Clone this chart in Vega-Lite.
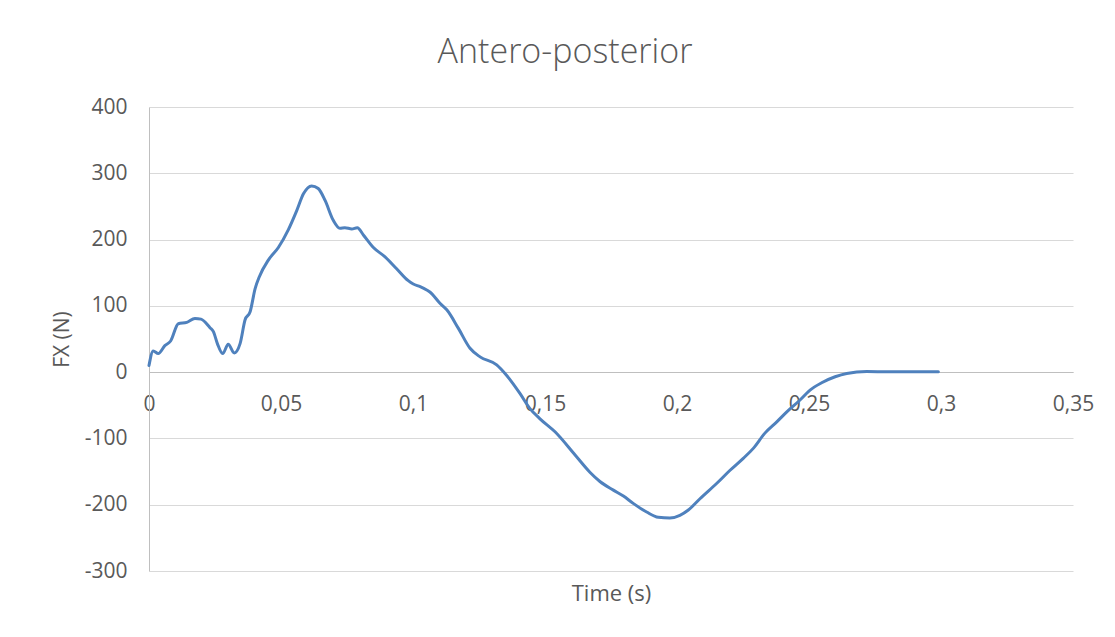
{
  "$schema": "https://vega.github.io/schema/vega-lite/v6.json",
  "width": 924,
  "height": 464,
  "autosize": {"type": "none"},
  "padding": {"left": 149, "top": 107, "right": 42, "bottom": 66},
  "background": "white",
  "title": {
    "text": "Antero-posterior",
    "font": "Open Sans",
    "fontSize": 34,
    "fontWeight": 300,
    "color": "#595959",
    "anchor": "middle",
    "dx": -46,
    "offset": 26
  },
  "config": {
    "view": {"stroke": null},
    "font": "Open Sans"
  },
  "data": {
    "values": [
      {"t": 0, "fx": 10},
      {"t": 0.0016, "fx": 32},
      {"t": 0.0035, "fx": 28},
      {"t": 0.006, "fx": 40},
      {"t": 0.0082, "fx": 47},
      {"t": 0.0111, "fx": 73},
      {"t": 0.0143, "fx": 75},
      {"t": 0.0174, "fx": 81},
      {"t": 0.0197, "fx": 80},
      {"t": 0.0231, "fx": 67},
      {"t": 0.0244, "fx": 61},
      {"t": 0.0259, "fx": 43},
      {"t": 0.0279, "fx": 28},
      {"t": 0.03, "fx": 42},
      {"t": 0.0323, "fx": 29},
      {"t": 0.0345, "fx": 43},
      {"t": 0.0364, "fx": 79},
      {"t": 0.0383, "fx": 91},
      {"t": 0.0402, "fx": 126},
      {"t": 0.0418, "fx": 144},
      {"t": 0.0452, "fx": 169},
      {"t": 0.049, "fx": 188},
      {"t": 0.0528, "fx": 215},
      {"t": 0.056, "fx": 244},
      {"t": 0.0585, "fx": 269},
      {"t": 0.0616, "fx": 281},
      {"t": 0.0641, "fx": 277},
      {"t": 0.0667, "fx": 259},
      {"t": 0.0698, "fx": 229},
      {"t": 0.0723, "fx": 217},
      {"t": 0.0742, "fx": 218},
      {"t": 0.0768, "fx": 216},
      {"t": 0.0789, "fx": 218},
      {"t": 0.0812, "fx": 207},
      {"t": 0.085, "fx": 188},
      {"t": 0.0894, "fx": 174},
      {"t": 0.0938, "fx": 156},
      {"t": 0.0982, "fx": 138},
      {"t": 0.1001, "fx": 133},
      {"t": 0.1027, "fx": 129},
      {"t": 0.1052, "fx": 124},
      {"t": 0.1064, "fx": 121},
      {"t": 0.1102, "fx": 104},
      {"t": 0.1128, "fx": 94},
      {"t": 0.1172, "fx": 66},
      {"t": 0.1216, "fx": 36},
      {"t": 0.1254, "fx": 23},
      {"t": 0.1317, "fx": 11},
      {"t": 0.1355, "fx": -5},
      {"t": 0.1405, "fx": -32},
      {"t": 0.1443, "fx": -55},
      {"t": 0.148, "fx": -70},
      {"t": 0.1538, "fx": -90},
      {"t": 0.1614, "fx": -125},
      {"t": 0.167, "fx": -151},
      {"t": 0.1708, "fx": -165},
      {"t": 0.1759, "fx": -178},
      {"t": 0.1797, "fx": -187},
      {"t": 0.1834, "fx": -198},
      {"t": 0.1885, "fx": -211},
      {"t": 0.1929, "fx": -219},
      {"t": 0.1973, "fx": -220},
      {"t": 0.2011, "fx": -216},
      {"t": 0.2043, "fx": -208},
      {"t": 0.2087, "fx": -191},
      {"t": 0.215, "fx": -168},
      {"t": 0.2201, "fx": -148},
      {"t": 0.2251, "fx": -130},
      {"t": 0.2289, "fx": -115},
      {"t": 0.2333, "fx": -92},
      {"t": 0.2378, "fx": -75},
      {"t": 0.2416, "fx": -60},
      {"t": 0.2466, "fx": -42},
      {"t": 0.2504, "fx": -27},
      {"t": 0.2548, "fx": -16},
      {"t": 0.2599, "fx": -7},
      {"t": 0.2643, "fx": -2},
      {"t": 0.2719, "fx": 1},
      {"t": 0.28, "fx": 0.5},
      {"t": 0.29, "fx": 0.5},
      {"t": 0.299, "fx": 0.5}
    ]
  },
  "mark": {"type": "line", "color": "#4f81bd", "strokeWidth": 3, "interpolate": "monotone", "strokeCap": "round", "strokeJoin": "round"},
  "encoding": {
    "x": {
      "field": "t",
      "type": "quantitative",
      "scale": {"domain": [0, 0.35], "nice": false, "zero": false},
      "axis": {
        "title": "Time (s)",
        "values": [0, 0.05, 0.1, 0.15, 0.2, 0.25, 0.3, 0.35],
        "labelExpr": "replace('' + datum.value, '.', ',')",
        "orient": "bottom",
        "offset": -199,
        "grid": false,
        "ticks": false,
        "domainColor": "#bfbfbf",
        "domainWidth": 1,
        "labelFont": "Open Sans",
        "labelFontSize": 21,
        "labelColor": "#595959",
        "labelPadding": 21,
        "labelFlush": false,
        "titleFont": "Open Sans",
        "titleFontSize": 22,
        "titleFontWeight": "normal",
        "titleColor": "#595959",
        "titleBaseline": "alphabetic",
        "titleY": 228,
        "titleX": 462
      }
    },
    "y": {
      "field": "fx",
      "type": "quantitative",
      "scale": {"domain": [-300, 400], "nice": false},
      "axis": {
        "title": "FX (N)",
        "values": [-300, -200, -100, 0, 100, 200, 300, 400],
        "labelExpr": "'' + datum.value",
        "grid": true,
        "gridColor": "#d9d9d9",
        "gridWidth": 1,
        "ticks": false,
        "domainColor": "#bfbfbf",
        "domainWidth": 1,
        "labelFont": "Open Sans",
        "labelFontSize": 21,
        "labelColor": "#595959",
        "labelPadding": 22,
        "titleFont": "Open Sans",
        "titleFontSize": 21,
        "titleFontWeight": "normal",
        "titleColor": "#595959",
        "titleAngle": -90,
        "titleBaseline": "middle",
        "titleX": -87,
        "titleY": 232
      }
    }
  }
}
